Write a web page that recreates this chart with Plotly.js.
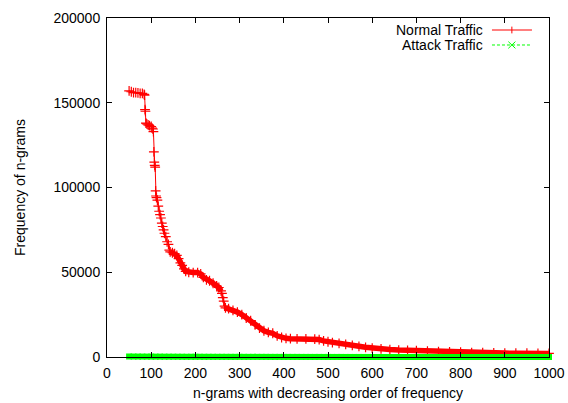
<!DOCTYPE html>
<html>
<head>
<meta charset="utf-8">
<script src="https://cdn.plot.ly/plotly-3.0.1.min.js"></script>
<style>html,body{margin:0;padding:0;background:#fff;}#chart{width:568px;height:403px;}</style>
</head>
<body>
<div id="chart"></div>
<script>
// Normal traffic: rank of n-gram vs frequency
const normalRank = [50,55,60,65,70,75,80,84,85,86,87,88,90,93,96,100,102,104,105,106,107,108,109,110,111,112,114,116,118,120,122,124,126,128,130,133,136,139,141,143,148,153,158,162,166,170,174,178,185,195,205,212,218,225,232,240,248,253,258,260,262,264,266,268,275,285,295,305,315,325,335,345,355,365,375,385,395,405,415,430,450,470,480,490,500,510,525,540,555,570,585,600,620,640,660,680,700,725,750,775,800,825,850,875,900,925,950,975,1000];
const normalFreq = [157000,156500,156000,156000,155800,155500,155500,155000,154500,146000,145000,138000,137500,137000,136500,136000,135000,134500,133000,121000,115000,113000,112000,98000,95000,94000,92500,89000,86000,84000,82000,79000,77000,75000,73000,71000,68000,66500,63000,62000,61500,61000,60000,58000,55500,54000,52000,50500,50000,49800,49800,49000,47000,45500,45000,43500,42000,41000,39000,37500,35000,33000,30000,29000,28500,27500,26500,25000,23000,21500,19000,17000,15500,14500,14000,12500,11500,11000,10800,10700,10700,10600,10300,9500,9000,8500,8000,7400,6800,6300,5700,5200,4800,4400,4100,3900,3700,3400,3200,3000,2800,2600,2500,2400,2300,2250,2200,2150,2100];

// Attack traffic: essentially zero along the whole range
const attackRank = [50,60,70,80,90,100,110,120,130,140,150,160,170,180,190,200,210,220,230,240,250,260,270,280,290,300,310,320,330,340,350,360,370,380,390,400,410,420,430,440,450,460,470,480,490,500,510,520,530,540,550,560,570,580,590,600,610,620,630,640,650,660,670,680,690,700,710,720,730,740,750,760,770,780,790,800,810,820,830,840,850,860,870,880,890,900,910,920,930,940,950,960,970,980,990,1000];
const attackFreq = [300,280,260,250,240,230,220,210,200,190,180,170,160,150,150,140,140,130,130,120,120,110,110,100,100,100,90,90,90,80,80,80,70,70,70,60,60,60,60,50,50,50,50,50,40,40,40,40,40,30,30,30,30,30,30,20,20,20,20,20,20,20,20,10,10,10,10,10,10,10,10,10,10,10,10,10,10,10,10,10,10,10,10,10,10,10,10,10,10,10,10,10,10,10,10,10];

const seriesNames = ["Normal Traffic", "Attack Traffic"];
const xTicks = [0,100,200,300,400,500,600,700,800,900,1000];
const yTicks = [0,50000,100000,150000,200000];

const FONT = "Liberation Sans, Arial, Helvetica, sans-serif";
const RED = "#ff0000", GREEN = "#00ff00";

// dense parts of the normal curve (markers merge into a solid band there)
const denseRuns = [[normalRank.indexOf(143), normalRank.indexOf(258)], [normalRank.indexOf(268), normalRank.length - 1]];

const traces = denseRuns.map(([a, b]) => ({
  x: normalRank.slice(a, b + 1), y: normalFreq.slice(a, b + 1), type: "scatter", mode: "lines",
  cliponaxis: false, showlegend: false, hoverinfo: "skip",
  line: {color: RED, width: 5.5}
}));
traces.push(
  {
    x: normalRank, y: normalFreq, type: "scatter", mode: "lines+markers",
    name: seriesNames[0], cliponaxis: false, showlegend: false,
    line: {color: RED, width: 1},
    marker: {symbol: "cross-thin", size: 7, line: {color: RED, width: 1.2}, color: RED}
  },
  {
    // attack points are so dense that their markers merge into a solid band
    x: attackRank, y: attackFreq, type: "scatter", mode: "markers",
    name: seriesNames[1], cliponaxis: false, showlegend: false,
    marker: {symbol: "square", size: 6, color: GREEN, line: {width: 0}}
  }
);

// Legend drawn gnuplot-style (text on the left, sample on the right)
const lx0 = 0.871, lx1 = 0.9615, lxc = 0.916, ltx = 0.853;
const ly = [0.9646, 0.9204];
const dxm = 0.008, dym = 0.010;
const shapes = [
  {type:"line", xref:"paper", yref:"paper", x0:lx0, x1:lx1, y0:ly[0], y1:ly[0], line:{color:RED, width:1}},
  {type:"line", xref:"paper", yref:"paper", x0:lxc, x1:lxc, y0:ly[0]-dym, y1:ly[0]+dym, line:{color:RED, width:1}},
  {type:"line", xref:"paper", yref:"paper", x0:lx0, x1:lx1, y0:ly[1], y1:ly[1], line:{color:GREEN, width:1, dash:"3px,2px"}},
  {type:"line", xref:"paper", yref:"paper", x0:lxc-dxm, x1:lxc+dxm, y0:ly[1]-dym, y1:ly[1]+dym, line:{color:GREEN, width:1}},
  {type:"line", xref:"paper", yref:"paper", x0:lxc-dxm, x1:lxc+dxm, y0:ly[1]+dym, y1:ly[1]-dym, line:{color:GREEN, width:1}}
];
const annotations = seriesNames.map((n, i) => ({
  text: n, xref: "paper", yref: "paper", x: ltx, y: ly[i], xanchor: "right", yanchor: "middle",
  showarrow: false, borderpad: 0, font: {family: FONT, size: 14, color: "#000"}
}));

const layout = {
  width: 568, height: 403,
  margin: {l: 107, r: 19, t: 18, b: 46},
  paper_bgcolor: "#fff", plot_bgcolor: "#fff",
  font: {family: FONT, size: 14, color: "#000"},
  showlegend: false,
  xaxis: {
    range: [0, 1000], tickvals: xTicks, ticktext: xTicks.map(String),
    ticks: "inside", ticklen: 5, tickcolor: "#000", mirror: "ticks",
    showline: true, linecolor: "#000", linewidth: 1, showgrid: false, zeroline: false,
    ticklabelstandoff: 3,
    title: {text: "n-grams with decreasing order of frequency", font: {family: FONT, size: 14}, standoff: 8},
    tickfont: {family: FONT, size: 14}
  },
  yaxis: {
    range: [0, 200000], tickvals: yTicks, ticktext: yTicks.map(String),
    ticks: "inside", ticklen: 5, tickcolor: "#000", mirror: "ticks",
    showline: true, linecolor: "#000", linewidth: 1, showgrid: false, zeroline: false,
    ticklabelstandoff: 3,
    title: {text: "Frequency of n-grams", font: {family: FONT, size: 14}, standoff: 24},
    tickfont: {family: FONT, size: 14}
  },
  shapes: shapes,
  annotations: annotations
};

Plotly.newPlot("chart", traces, layout, {displayModeBar: false, staticPlot: true});
</script>
</body>
</html>
